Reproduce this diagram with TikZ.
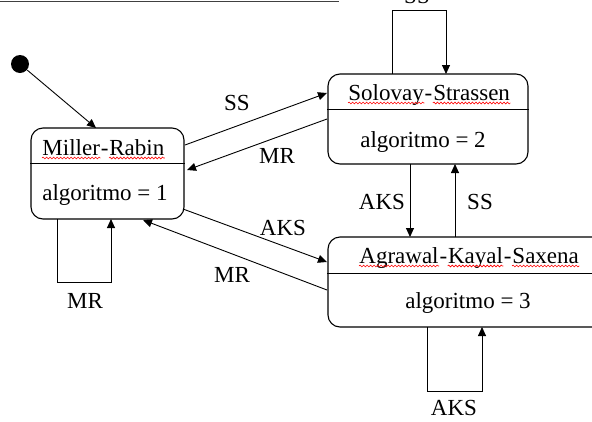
\documentclass[tikz,border=0pt]{standalone}
\usepackage{fontspec}
\setmainfont{Liberation Serif}
\usetikzlibrary{arrows.meta,decorations.pathmorphing}
\begin{document}
\begin{tikzpicture}[x=1pt,y=-1pt,line width=0.9pt,
  statebox/.style={draw,rectangle,rounded corners=12pt,inner sep=0pt,line width=1.1pt},
  lbl/.style={anchor=base,inner sep=0pt,font=\fontsize{23}{27}\selectfont},
  wrd/.style={lbl,anchor=base west},
  wave/.style={red,line width=0.6pt,decorate,decoration={snake,amplitude=0.9pt,segment length=3.5pt}},
  arr/.style={-{Triangle[length=9pt,width=8pt]}}]
\useasboundingbox (0,0) rectangle (592,421);
\clip (0,0) rectangle (592,421);
% top frame line
\draw[line width=1.8pt,black!75] (0,1.5) -- (339,1.5);
% states
\node[statebox,minimum width=153pt,minimum height=91pt] (mr) at (107.5,173.5) {};
\node[statebox,minimum width=200pt,minimum height=90pt] (ss) at (428,119) {};
\node[statebox,minimum width=282pt,minimum height=90pt] (aks) at (469,282) {};
\draw (mr.west |- 0,163) -- (mr.east |- 0,163);
\draw (ss.west |- 0,109) -- (ss.east |- 0,109);
\draw (aks.west |- 0,273) -- (aks.east |- 0,273);
% state names (word by word, for the underlines)
\node[wrd] (mw1) at (42,155) {Miller};
\node[wrd] (mh1) at (mw1.base east) {-};
\node[wrd] (mw2) at (mh1.base east) {Rabin};
\node[wrd] (sw1) at (348,100) {Solovay};
\node[wrd] (sh1) at (sw1.base east) {-};
\node[wrd] (sw2) at (sh1.base east) {Strassen};
\node[wrd] (aw1) at (359,263) {Agrawal};
\node[wrd] (ah1) at (aw1.base east) {-};
\node[wrd] (aw2) at (ah1.base east) {Kayal};
\node[wrd] (ah2) at (aw2.base east) {-};
\node[wrd] (aw3) at (ah2.base east) {Saxena};
\foreach \w in {mw1,mw2,sw1,sw2,aw1,aw2,aw3}
  \draw[wave] ([yshift=-3pt]\w.base west) -- ([yshift=-3pt]\w.base east);
\node[lbl] (mrval) at (105,200) {algoritmo = 1};
\node[lbl] (ssval) at (423,147) {algoritmo = 2};
\node[lbl] (aksval) at (468,308) {algoritmo = 3};
% initial state
\node[circle,fill=black,inner sep=0pt,minimum size=18pt] (init) at (20,64) {};
\coordinate (mrtop) at (96,128);
\draw[arr] (init) -- (mrtop);
% connector end points
\coordinate (mrA) at (185,145);   \coordinate (ssA) at (327,93);
\coordinate (ssB) at (327,119);   \coordinate (mrB) at (187,170);
\coordinate (mrC) at (183,209);   \coordinate (aksC) at (327,262);
\coordinate (aksD) at (327,290);  \coordinate (mrD) at (143,220);
\coordinate (ssE) at (410,164);   \coordinate (aksE) at (410,237);
\coordinate (aksF) at (455,237);  \coordinate (ssF) at (455,164);
\coordinate (ssL1) at (392,74);   \coordinate (ssL2) at (446,74);
\coordinate (mrL1) at (57,219);   \coordinate (mrL2) at (111,219);
\coordinate (aksL1) at (427,327); \coordinate (aksL2) at (482,327);
% transitions
\draw[arr] (mrA) -- (ssA);
\draw[arr] (ssB) -- (mrB);
\draw[arr] (mrC) -- (aksC);
\draw[arr] (aksD) -- (mrD);
\draw[arr] (ssE) -- (aksE);
\draw[arr] (aksF) -- (ssF);
\draw[arr] (ssL1) -- ++(0,-64) -| (ssL2);
\draw[arr] (mrL1) -- ++(0,63) -| (mrL2);
\draw[arr] (aksL1) -- ++(0,64) -| (aksL2);
% labels
\node[lbl] (l1) at (237,110) {SS};
\node[lbl] (l2) at (277,163) {MR};
\node[lbl] (l3) at (283,235) {AKS};
\node[lbl] (l4) at (232,282) {MR};
\node[lbl] (l5) at (85,308) {MR};
\node[lbl] (l6) at (454,415) {AKS};
\node[lbl] (l7) at (382,209) {AKS};
\node[lbl] (l8) at (480,209) {SS};
\node[lbl] (l9) at (417,3) {SS};
\end{tikzpicture}
\end{document}
